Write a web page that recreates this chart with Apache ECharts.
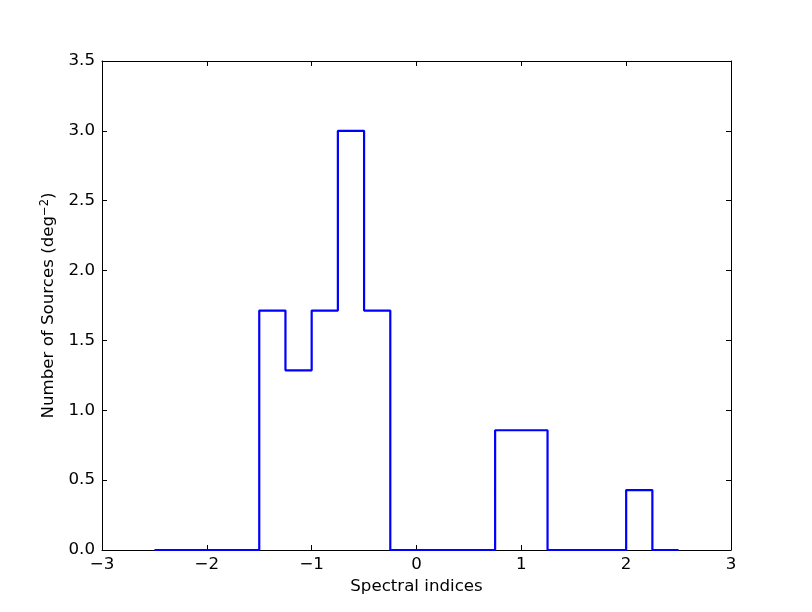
<!DOCTYPE html>
<html><head><meta charset="utf-8">
<script src="https://cdn.jsdelivr.net/npm/echarts@6/dist/echarts.min.js"></script>
<style>html,body{margin:0;padding:0;background:#fff}#c{width:812px;height:612px}</style>
</head><body><div id="c"></div>
<script>
const binEdges = [-2.5,-2.25,-2.0,-1.75,-1.5,-1.25,-1.0,-0.75,-0.5,-0.25,0.0,0.25,0.5,0.75,1.0,1.25,1.5,1.75,2.0,2.25,2.5];
const binValues = [0,0,0,0,1.714,1.286,1.714,3.0,1.714,0,0,0,0,0.857,0.857,0,0,0,0.429,0];
const xTicks = [-3,-2,-1,0,1,2,3];
const yTicks = [0,0.5,1.0,1.5,2.0,2.5,3.0,3.5];

const pts = [];
for (let i = 0; i < binValues.length; i++) {
  pts.push([binEdges[i], binValues[i]]);
  pts.push([binEdges[i+1], binValues[i]]);
}
const font = 'DejaVu Sans';
const fs = 16.67;
const fmtX = v => (v < 0 ? '\u2212' + Math.abs(v) : String(v));
const fmtY = v => v.toFixed(1);
const tickIn = {show:true, inside:true, length:5, lineStyle:{color:'#000', width:1}};
const lineBlack = {show:true, onZero:false, lineStyle:{color:'#000', width:1}};

const chart = echarts.init(document.getElementById('c'), null, {renderer:'canvas'});
chart.setOption({
  animation:false,
  backgroundColor:'#fff',
  grid:{left:102, right:81, top:61, bottom:62, containLabel:false},
  xAxis:[{
    type:'value', min:xTicks[0], max:xTicks[xTicks.length-1], interval:1,
    axisLine:lineBlack, axisTick:tickIn, splitLine:{show:false},
    axisLabel:{color:'#000', fontFamily:font, fontSize:fs, margin:6, formatter:fmtX},
    name:'Spectral indices', nameLocation:'middle', nameGap:27,
    nameTextStyle:{color:'#000', fontFamily:font, fontSize:fs}
  },{
    type:'value', min:xTicks[0], max:xTicks[xTicks.length-1], interval:1, position:'top',
    axisLine:lineBlack, axisTick:tickIn, axisLabel:{show:false}, splitLine:{show:false}
  }],
  yAxis:[{
    type:'value', min:yTicks[0], max:yTicks[yTicks.length-1], interval:0.5,
    axisLine:lineBlack, axisTick:tickIn, splitLine:{show:false},
    axisLabel:{color:'#000', fontFamily:font, fontSize:fs, margin:7, formatter:fmtY},
    name:'Number of Sources (deg{sup|\u22122})', nameLocation:'middle', nameGap:39, nameRotate:90,
    nameTextStyle:{color:'#000', fontFamily:font, fontSize:fs,
      rich:{sup:{fontSize:11.5, fontFamily:font, color:'#000', padding:[0,0,9,0]}}}
  },{
    type:'value', min:yTicks[0], max:yTicks[yTicks.length-1], interval:0.5, position:'right',
    axisLine:lineBlack, axisTick:tickIn, axisLabel:{show:false}, splitLine:{show:false}
  }],
  series:[{
    type:'line', data:pts, showSymbol:false, symbol:'none',
    lineStyle:{color:'#0000ff', width:2.2}, clip:false
  }]
});
</script></body></html>
